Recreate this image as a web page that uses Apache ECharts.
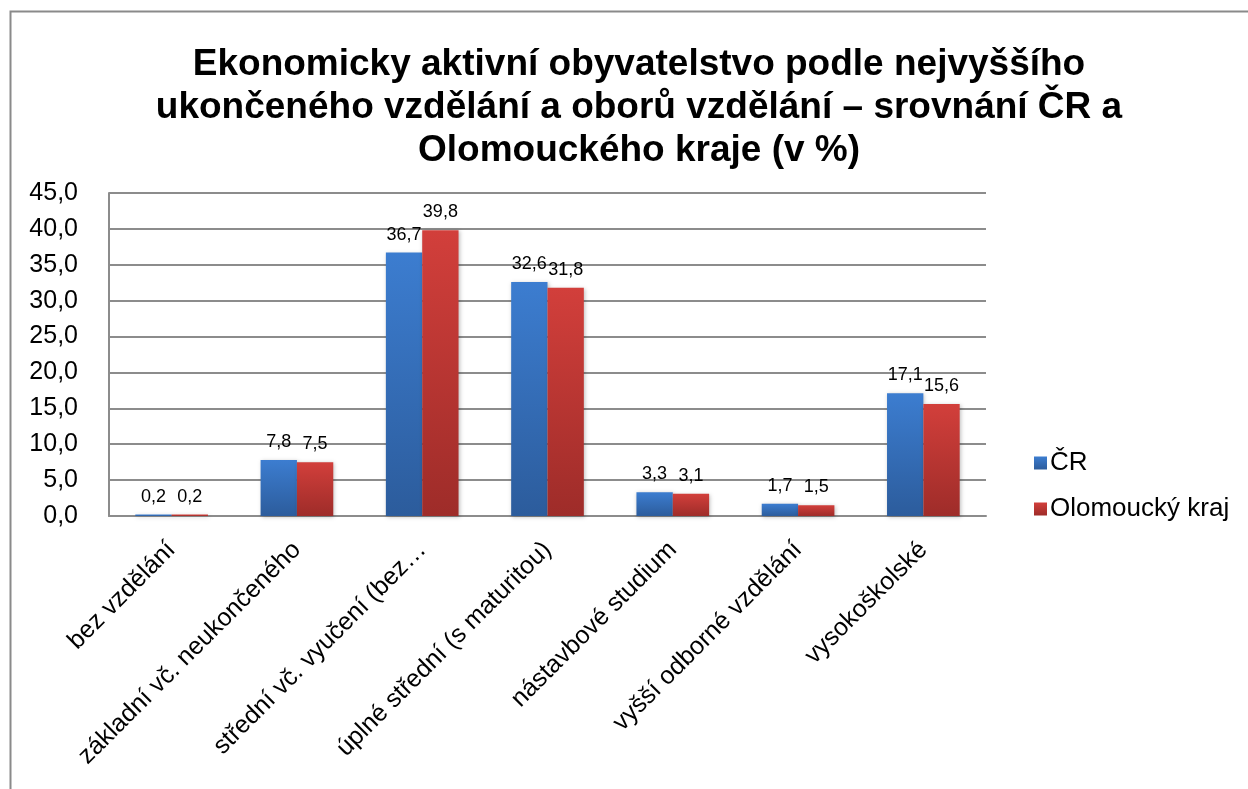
<!DOCTYPE html>
<html style="height: 100%">
  <head>
    <meta charset="utf-8" />
    <title>Ekonomicky aktivní obyvatelstvo</title>
    <script src="https://cdn.jsdelivr.net/npm/echarts@6/dist/echarts.min.js"></script>
  </head>
  <body style="height: 100%; margin: 0; background: #fff">
    <div id="container" style="width: 1248px; height: 789px"></div>
    <script type="text/javascript">
      // categories and values
      let categories = [
        "bez vzdělání",
        "základní vč. neukončeného",
        "střední vč. vyučení (bez…",
        "úplné střední (s maturitou)",
        "nástavbové studium",
        "vyšší odborné vzdělání",
        "vysokoškolské",
      ];
      let crValues = [0.2, 7.8, 36.7, 32.6, 3.3, 1.7, 17.1];
      let olomoucValues = [0.2, 7.5, 39.8, 31.8, 3.1, 1.5, 15.6];
      let seriesNames = ["ČR", "Olomoucký kraj"];

      let comma = (v) => Number(v).toFixed(1).replace(".", ",");
      let font = "Liberation Sans, Arial, sans-serif";

      let grad = (top, bottom) =>
        new echarts.graphic.LinearGradient(0, 0, 0, 1, [
          { offset: 0, color: top },
          { offset: 1, color: bottom },
        ]);

      // same label setup for both series
      let barLabel = {
        show: true,
        position: "top",
        distance: 9,
        formatter: (p) => comma(p.value),
        fontSize: 18,
        color: "#000",
        fontFamily: font,
      };

      let dom = document.getElementById("container");
      let chart = echarts.init(dom);
      chart.setOption({
        animation: false,
        textStyle: { fontFamily: font },
        graphic: [
          {
            // outer frame of the chart
            type: "rect",
            shape: { x: 10.5, y: 11.5, width: 1260, height: 800 },
            style: { fill: "none", stroke: "#8a8a8a", lineWidth: 2 },
            z: -1,
          },
        ],
        title: {
          text: "Ekonomicky aktivní obyvatelstvo podle nejvyššího\nukončeného vzdělání a oborů vzdělání – srovnání ČR a\nOlomouckého kraje (v %)",
          left: 634,
          textAlign: "center",
          top: 38,
          textStyle: {
            fontFamily: font,
            fontSize: 37,
            fontWeight: "bold",
            color: "#000",
            lineHeight: 43,
          },
        },
        legend: {
          orient: "vertical",
          left: 1029,
          top: 445,
          itemWidth: 13,
          itemHeight: 13,
          itemGap: 20,
          icon: "rect",
          textStyle: { fontFamily: font, fontSize: 26, color: "#000", padding: [0, 0, 0, -2] },
          data: seriesNames,
        },
        grid: { left: 109, right: 262, top: 193, bottom: 273 },
        xAxis: {
          type: "category",
          data: categories,
          axisLine: { show: true, lineStyle: { color: "#8c8c8c", width: 2 } },
          axisTick: { show: false },
          axisLabel: {
            rotate: 45,
            interval: 0,
            margin: 30,
            fontSize: 25,
            color: "#000",
            fontFamily: font,
          },
        },
        yAxis: {
          type: "value",
          min: 0,
          max: 45,
          interval: 5,
          axisLine: { show: true, lineStyle: { color: "#8c8c8c", width: 2 } },
          axisTick: { show: false },
          splitLine: { lineStyle: { color: "#8c8c8c", width: 2 } },
          axisLabel: {
            formatter: comma,
            fontSize: 25,
            margin: 31,
            color: "#000",
            fontFamily: font,
          },
        },
        series: [
          {
            name: seriesNames[0],
            type: "bar",
            data: crValues,
            barGap: "0%",
            barCategoryGap: "42%",
            itemStyle: {
              color: grad("#3c7dd0", "#2c5c9c"),
              shadowColor: "rgba(0,0,0,0.25)",
              shadowBlur: 4,
              shadowOffsetX: 1,
              shadowOffsetY: 1,
            },
            label: barLabel,
          },
          {
            name: seriesNames[1],
            type: "bar",
            data: olomoucValues,
            itemStyle: {
              color: grad("#d23f3b", "#9e2c29"),
              shadowColor: "rgba(0,0,0,0.25)",
              shadowBlur: 4,
              shadowOffsetX: 1,
              shadowOffsetY: 1,
            },
            label: barLabel,
          },
        ],
      });
    </script>
  </body>
</html>
